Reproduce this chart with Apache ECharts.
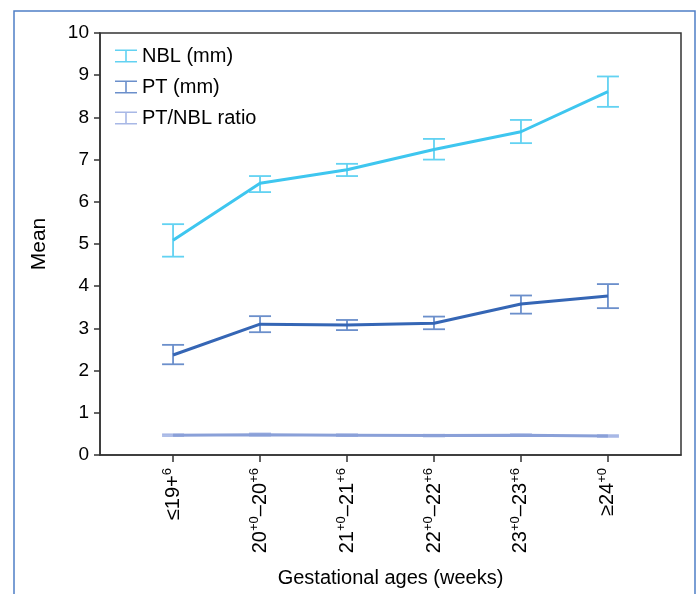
<!DOCTYPE html>
<html>
<head>
<meta charset="utf-8">
<script src="https://cdn.jsdelivr.net/npm/echarts@6/dist/echarts.min.js"></script>
<style>
html,body{margin:0;padding:0;background:#fff;}
#chart{width:699px;height:594px;}
</style>
</head>
<body>
<div id="chart"></div>
<script>
// ---- data ----
const categoryIndex = [0, 1, 2, 3, 4, 5];
const tickLabels = [
  '{n|≤19+}{s|6}',
  '{n|20}{s|+0}{n|–20}{s|+6}',
  '{n|21}{s|+0}{n|–21}{s|+6}',
  '{n|22}{s|+0}{n|–22}{s|+6}',
  '{n|23}{s|+0}{n|–23}{s|+6}',
  '{n|≥24}{s|+0}'
];
const nblMean  = [5.09, 6.44, 6.76, 7.24, 7.66, 8.61];
const nblLow   = [4.70, 6.23, 6.61, 7.00, 7.39, 8.25];
const nblHigh  = [5.47, 6.61, 6.90, 7.49, 7.94, 8.97];
const ptMean   = [2.37, 3.10, 3.08, 3.12, 3.58, 3.77];
const ptLow    = [2.15, 2.91, 2.96, 2.98, 3.35, 3.48];
const ptHigh   = [2.61, 3.29, 3.20, 3.28, 3.78, 4.05];
const ratioMean= [0.47, 0.48, 0.47, 0.46, 0.47, 0.45];
const ratioLow = [0.45, 0.46, 0.45, 0.44, 0.45, 0.43];
const ratioHigh= [0.49, 0.51, 0.49, 0.48, 0.49, 0.47];
const yTicks = [0,1,2,3,4,5,6,7,8,9,10];

const seriesDefs = [
  {name:'NBL (mm)', mean:nblMean, low:nblLow, high:nblHigh, line:'#3ec6ef', bar:'#62d2f2'},
  {name:'PT (mm)', mean:ptMean, low:ptLow, high:ptHigh, line:'#3566b5', bar:'#6b8fcb'},
  {name:'PT/NBL ratio', mean:ratioMean, low:ratioLow, high:ratioHigh, line:'#8aa0d8', bar:'#a8b8e6'}
];

const FONT = '"Liberation Sans", Arial, Helvetica, sans-serif';
const chart = echarts.init(document.getElementById('chart'), null, {renderer:'canvas'});

function errRender(color){
  return function(params, api){
    const x = api.value(0);
    const lo = api.coord([x, api.value(1)]);
    const hi = api.coord([x, api.value(2)]);
    const w = 11;
    const st = {stroke:color, lineWidth:1.8};
    return {type:'group', children:[
      {type:'line', shape:{x1:lo[0],y1:lo[1],x2:hi[0],y2:hi[1]}, style:st},
      {type:'line', shape:{x1:hi[0]-w,y1:hi[1],x2:hi[0]+w,y2:hi[1]}, style:st},
      {type:'line', shape:{x1:lo[0]-w,y1:lo[1],x2:lo[0]+w,y2:lo[1]}, style:st}
    ]};
  };
}

const series = [];
seriesDefs.forEach(d => {
  series.push({
    name:d.name, type:'custom', renderItem:errRender(d.bar),
    data: categoryIndex.map((x,i)=>[x, d.low[i], d.high[i]]),
    itemStyle:{color:d.bar}, z:2, silent:true
  });
});
seriesDefs.forEach(d => {
  series.push({
    name:d.name, type:'line', showSymbol:false, symbol:'none',
    data: categoryIndex.map((x,i)=>[x, d.mean[i]]),
    lineStyle:{color:d.line, width:3}, itemStyle:{color:d.line}, z:3, silent:true
  });
});

const icon = 'path://M0,0h22v1.6h-22z M10.2,0h1.6v13h-1.6z M0,11.4h22v1.6h-22z';

chart.setOption({
  animation:false,
  backgroundColor:'#fff',
  textStyle:{fontFamily:FONT},
  graphic:[{
    type:'rect', shape:{x:14, y:11, width:681, height:600},
    style:{fill:'none', stroke:'#4f7fc6', lineWidth:1.5}, z:-1
  }],
  legend:{
    orient:'vertical', left:115, top:46, padding:0, itemGap:11, itemWidth:22, itemHeight:13,
    textStyle:{fontSize:20, color:'#000', fontFamily:FONT},
    data: seriesDefs.map(d=>({name:d.name, icon:icon, itemStyle:{color:d.bar}})),
    selectedMode:false
  },
  grid:{left:100, top:33, right:18, bottom:139, show:true, borderColor:'#333', borderWidth:1.5,
        containLabel:false, outerBoundsMode:'none'},
  xAxis:{
    type:'value', min:-0.84, max:5.84,
    name:'Gestational ages (weeks)', nameLocation:'middle', nameGap:113,
    nameTextStyle:{fontSize:20, color:'#000', fontFamily:FONT},
    axisLine:{show:true, onZero:false, lineStyle:{color:'#333', width:1.5}},
    axisTick:{show:true, customValues:categoryIndex, length:7, lineStyle:{color:'#333', width:1.5}},
    splitLine:{show:false},
    axisLabel:{
      customValues:categoryIndex, rotate:90, margin:13, color:'#000',
      formatter:(v)=>tickLabels[Math.round(v)],
      rich:{
        n:{fontSize:20, color:'#000', lineHeight:24, fontFamily:FONT},
        s:{fontSize:13, color:'#000', verticalAlign:'top', lineHeight:24, fontFamily:FONT}
      }
    }
  },
  yAxis:{
    type:'value', min:0, max:10, interval:1,
    name:'Mean', nameLocation:'middle', nameGap:50,
    nameTextStyle:{fontSize:21, color:'#000', fontFamily:FONT},
    axisLine:{show:true, onZero:false, lineStyle:{color:'#333', width:1.5}},
    axisTick:{show:true, length:6, lineStyle:{color:'#333', width:1.5}},
    splitLine:{show:false},
    axisLabel:{fontSize:19, color:'#000', margin:11, fontFamily:FONT, formatter:(v)=>String(yTicks[Math.round(v)])}
  },
  series: series
});
</script>
</body>
</html>
